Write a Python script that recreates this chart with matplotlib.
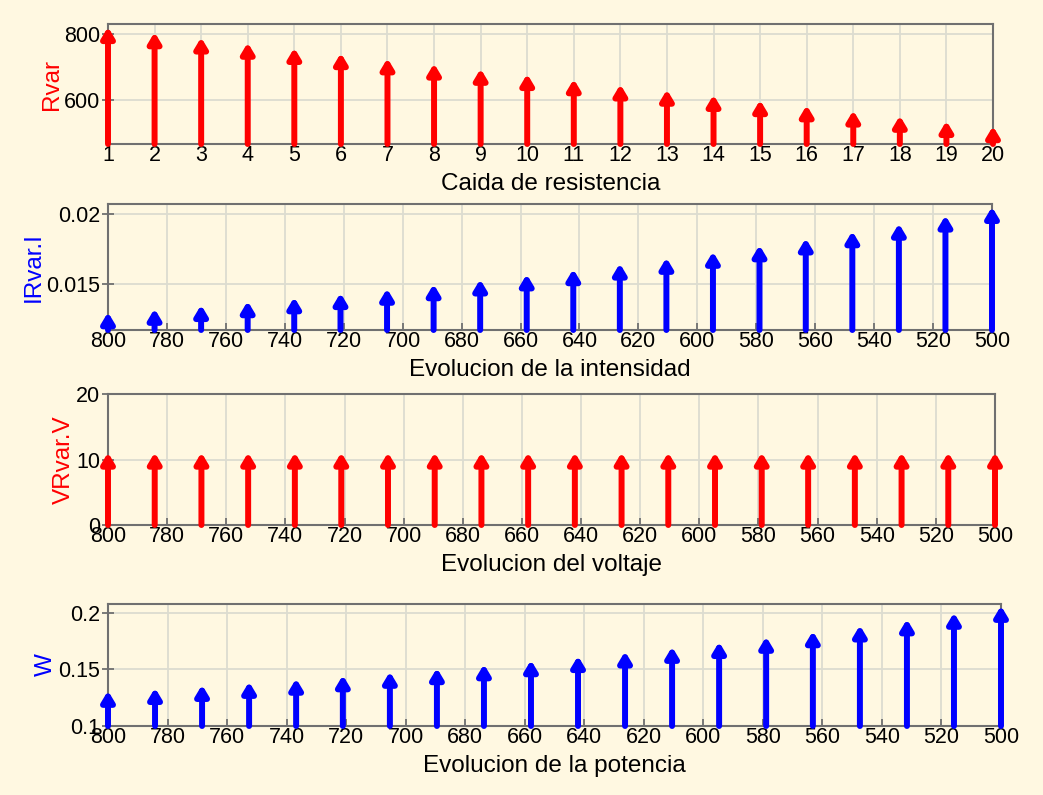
import matplotlib.pyplot as plt
from matplotlib.transforms import offset_copy

# datos
paso = list(range(1, 21))
rvar = [800, 784.2, 768.4, 752.6, 736.8, 721.1, 705.3, 689.5, 673.7, 657.9,
        642.1, 626.3, 610.5, 594.7, 578.9, 563.2, 547.4, 531.6, 515.8, 500]
corriente = [0.0125, 0.01275, 0.01302, 0.01329, 0.01357, 0.01387, 0.01418, 0.01450,
             0.01484, 0.01520, 0.01557, 0.01597, 0.01638, 0.01681, 0.01727, 0.01776,
             0.01827, 0.01881, 0.01939, 0.02]
voltaje = [10] * 20
potencia = [0.125, 0.1275, 0.1302, 0.1329, 0.1357, 0.1387, 0.1418, 0.1450,
            0.1484, 0.1520, 0.1557, 0.1597, 0.1638, 0.1681, 0.1727, 0.1776,
            0.1827, 0.1881, 0.1939, 0.2]

fondo = "#fff8e1"
plt.rcParams['font.family'] = ['Liberation Sans', 'DejaVu Sans']
plt.rcParams['font.size'] = 15.5

fig = plt.figure(figsize=(10.43, 7.95), dpi=100, facecolor=fondo)
W, H = 1043, 795


def caja(left, right, top, bottom):
    return [left / W, 1 - bottom / H, (right - left) / W, (bottom - top) / H]


def flechas(ax, xs, ys, base, color):
    # la punta queda un poco por encima del valor, como en el original
    punta = offset_copy(ax.transData, fig=fig, x=0, y=5, units='points')
    for x, y in zip(xs, ys):
        ax.annotate("", xy=(x, y), xycoords=punta,
                    xytext=(x, base), textcoords=ax.transData,
                    arrowprops=dict(arrowstyle="-|>,head_length=0.6,head_width=0.36",
                                    mutation_scale=10, lw=4.3, color=color,
                                    shrinkA=0, shrinkB=0),
                    annotation_clip=False)


def estilo(ax, xlabel, ylabel, ycolor):
    ax.set_facecolor(fondo)
    for s in ax.spines.values():
        s.set_color("#707070")
        s.set_linewidth(1.5)
    ax.grid(True, color="#dcdcd0", lw=1.3)
    ax.set_axisbelow(True)
    ax.tick_params(axis='y', direction='inout', length=9, width=1.3, color="#707070", pad=1)
    ax.tick_params(axis='x', direction='in', length=5, width=1.3, color="#707070", pad=1)
    ax.set_xlabel(xlabel, fontsize=17.5, labelpad=5)
    ax.set_ylabel(ylabel, color=ycolor, fontsize=17.5, labelpad=1)


ax1 = fig.add_axes(caja(108, 993, 24, 144))
ax1.set_xlim(1, 20)
ax1.set_ylim(467, 830)
ax1.set_xticks(paso)
ax1.set_yticks([600, 800])
flechas(ax1, paso, rvar, 467, "#ff0000")
estilo(ax1, "Caida de resistencia", "Rvar", "#ff0000")

ticks_r = list(range(800, 499, -20))

ax2 = fig.add_axes(caja(108, 992, 204, 330))
ax2.set_xlim(800, 500)
ax2.set_ylim(0.01173, 0.0207)
ax2.set_xticks(ticks_r)
ax2.set_yticks([0.015, 0.02])
ax2.set_yticklabels(["0.015", "0.02"])
flechas(ax2, rvar, corriente, 0.01173, "#0000ff")
estilo(ax2, "Evolucion de la intensidad", "IRvar.I", "#0000ff")

ax3 = fig.add_axes(caja(108, 995, 394, 525))
ax3.set_xlim(800, 500)
ax3.set_ylim(0, 20)
ax3.set_xticks(ticks_r)
ax3.set_yticks([0, 10, 20])
flechas(ax3, rvar, voltaje, 0, "#ff0000")
estilo(ax3, "Evolucion del voltaje", "VRvar.V", "#ff0000")

ax4 = fig.add_axes(caja(108, 1001, 604, 726))
ax4.set_xlim(800, 500)
ax4.set_ylim(0.1, 0.2077)
ax4.set_xticks(ticks_r)
ax4.set_yticks([0.1, 0.15, 0.2])
ax4.set_yticklabels(["0.1", "0.15", "0.2"])
flechas(ax4, rvar, potencia, 0.1, "#0000ff")
estilo(ax4, "Evolucion de la potencia", "W", "#0000ff")

fig.savefig("out.png", dpi=100, facecolor=fondo)
